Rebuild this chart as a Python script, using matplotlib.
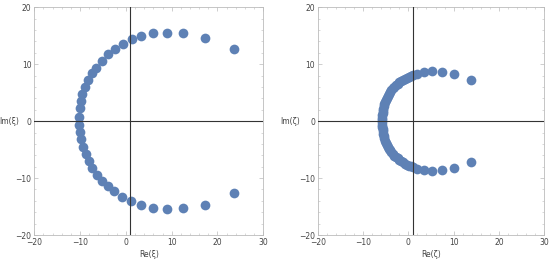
import matplotlib
matplotlib.use("Agg")
import matplotlib.pyplot as plt
from matplotlib.ticker import MultipleLocator

# ---- data ----
left_upper_x = [-10.17, -10.09, -9.87, -9.52, -8.93, -8.21, -7.47, -6.6, -5.28, -3.97,
                -2.38, -0.7, 1.27, 3.3, 5.9, 9.04, 12.53, 17.19, 23.67]
left_upper_y = [0.76, 2.23, 3.57, 4.75, 6.03, 7.2, 8.38, 9.37, 10.6, 11.72,
                12.65, 13.53, 14.36, 15.0, 15.4, 15.57, 15.4, 14.64, 12.76]
left_lower_x = [-10.24, -10.02, -9.8, -9.3, -8.78, -8.06, -7.34, -6.38, -5.28, -3.97,
                -2.53, -0.79, 1.11, 3.3, 5.9, 9.0, 12.5, 17.2, 23.7]
left_lower_y = [-0.7, -1.9, -3.2, -4.5, -5.8, -7.0, -8.2, -9.5, -10.5, -11.4,
                -12.3, -13.3, -14.06, -14.76, -15.3, -15.5, -15.3, -14.7, -12.6]

right_upper_x = [-5.75, -5.73, -5.7, -5.65, -5.58, -5.5, -5.4, -5.27, -5.12, -4.95,
                 -4.75, -4.52, -4.27, -4.0, -3.72, -3.4, -3.05, -2.7, -2.35, -1.95,
                 -1.55, -1.15, -0.75, -0.3, 0.15, 0.55, 0.95,
                 1.9, 3.4, 5.2, 7.4, 10.1, 13.8]
right_upper_y = [0.2, 0.6, 1.0, 1.4, 1.8, 2.2, 2.6, 3.0, 3.4, 3.8,
                 4.15, 4.5, 4.85, 5.15, 5.45, 5.75, 6.05, 6.3, 6.55, 6.8,
                 7.05, 7.25, 7.45, 7.65, 7.8, 7.95, 8.1,
                 8.35, 8.6, 8.75, 8.65, 8.25, 7.2]
right_lower_x = [-5.75, -5.73, -5.7, -5.65, -5.58, -5.5, -5.4, -5.27, -5.12, -4.95,
                 -4.75, -4.52, -4.27, -4.0, -3.72, -3.4, -3.05, -2.7, -2.35, -1.95,
                 -1.55, -1.15, -0.75, -0.3, 0.15, 0.55, 0.95,
                 1.9, 3.4, 5.2, 7.4, 10.1, 13.8]
right_lower_y = [-0.2, -0.6, -1.0, -1.4, -1.8, -2.2, -2.6, -3.0, -3.4, -3.8,
                 -4.15, -4.5, -4.85, -5.15, -5.45, -5.75, -6.05, -6.3, -6.55, -6.8,
                 -7.05, -7.25, -7.45, -7.65, -7.8, -7.95, -8.1,
                 -8.35, -8.6, -8.75, -8.65, -8.2, -7.1]

xlim = (-20, 30)
ylim = (-20, 20)
axis_x = 1
axis_y = 0
labels_left = ("Re(ξ)", "Im(ξ)")
labels_right = ("Re(ζ)", "Im(ζ)")

color = "#5E81B5"
fig = plt.figure(figsize=(5.5, 2.61), dpi=100)


def panel(rect, xs, ys, labels, ylab_x):
    ax = fig.add_axes(rect)
    for x, y in zip(xs, ys):
        ax.plot(x, y, "o", ms=7.0, color=color, mec="none", zorder=2, ls="none")
    ax.axvline(axis_x, color="#333333", lw=0.8, zorder=3)
    ax.axhline(axis_y, color="#333333", lw=0.8, zorder=3)
    ax.set_xlim(*xlim)
    ax.set_ylim(*ylim)
    ax.xaxis.set_major_locator(MultipleLocator(10))
    ax.yaxis.set_major_locator(MultipleLocator(10))
    ax.xaxis.set_minor_locator(MultipleLocator(2))
    ax.yaxis.set_minor_locator(MultipleLocator(2))
    ax.tick_params(which="both", direction="in", top=True, right=True,
                   color="#BBBBBB", labelsize=5.5, labelcolor="#444444", pad=2)
    ax.tick_params(which="major", length=3, width=0.5)
    ax.tick_params(which="minor", length=1.5, width=0.4)
    for s in ax.spines.values():
        s.set_color("#BBBBBB")
        s.set_linewidth(0.6)
    ax.set_xlabel(labels[0], fontsize=5.5, color="#444444", labelpad=2)
    ax.set_ylabel(labels[1], fontsize=5.5, color="#444444", rotation=0,
                  ha="right", va="center")
    ax.yaxis.set_label_coords(ylab_x, 0.5)
    return ax


panel([0.0624, 0.0996, 0.4163, 0.8724],
      [left_upper_x, left_lower_x], [left_upper_y, left_lower_y], labels_left, -0.068)
panel([0.5776, 0.0996, 0.412, 0.8724],
      [right_upper_x, right_lower_x], [right_upper_y, right_lower_y], labels_right, -0.078)

fig.savefig("out.png", dpi=100)
